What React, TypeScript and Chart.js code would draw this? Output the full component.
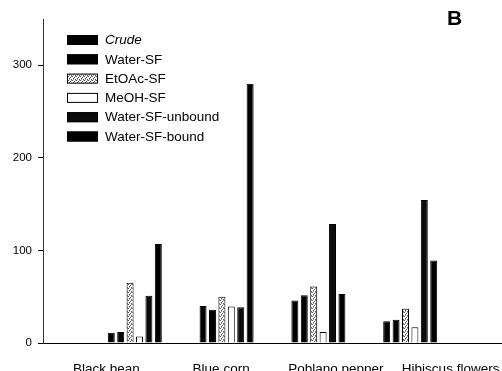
import React, { useEffect, useRef } from "react";
import { Chart, registerables } from "chart.js";

Chart.register(...registerables);

const categories = ["Black bean", "Blue corn", "Poblano pepper", "Hibiscus flowers"];
const seriesNames = ["Crude", "Water-SF", "EtOAc-SF", "MeOH-SF", "Water-SF-unbound", "Water-SF-bound"];
const crude = [11, 40, 46, 23.5];
const waterSF = [12, 36, 51.5, 25];
const etoacSF = [65, 50, 61, 37];
const meohSF = [7, 39.5, 12, 17];
const waterSFUnbound = [51, 38.5, 128.5, 154.5];
const waterSFBound = [107, 280, 53, 89];
const yTicks = [0, 100, 200, 300];
const yMax = 350;
const panelLabel = "B";

const FONT = '"Liberation Sans", Arial, Helvetica, sans-serif';
const CANVAS_W = 502;
const CANVAS_H = 380;

function makeStipple(): CanvasPattern | string {
  const c = document.createElement("canvas");
  c.width = 4;
  c.height = 4;
  const g = c.getContext("2d");
  if (!g) return "#bbb";
  g.fillStyle = "#ffffff";
  g.fillRect(0, 0, 4, 4);
  g.fillStyle = "#555555";
  g.fillRect(0, 0, 1, 1);
  g.fillRect(2, 1, 1, 1);
  g.fillRect(1, 2, 1, 1);
  g.fillRect(3, 3, 1, 1);
  g.fillStyle = "#999999";
  g.fillRect(3, 0, 1, 1);
  g.fillRect(1, 3, 1, 1);
  const p = g.createPattern(c, "repeat");
  return p || "#bbb";
}

const insideLegend = {
  id: "insideLegend",
  afterDraw(chart: any) {
    const { ctx, chartArea } = chart;
    const x0 = chartArea.left + 24;
    const y0 = chartArea.top + 21;
    const rowH = 19.3;
    ctx.save();
    chart.data.datasets.forEach((ds: any, i: number) => {
      const cy = y0 + i * rowH;
      ctx.fillStyle = ds.backgroundColor;
      ctx.fillRect(x0, cy - 5, 31, 10);
      ctx.strokeStyle = "#000";
      ctx.lineWidth = 1;
      ctx.strokeRect(x0 + 0.5, cy - 4.5, 30, 9);
      ctx.fillStyle = "#000";
      ctx.font = (i === 0 ? "italic " : "") + "13.5px " + FONT;
      ctx.textBaseline = "middle";
      ctx.textAlign = "left";
      ctx.fillText(ds.label, x0 + 38, cy + 0.5);
    });
    ctx.font = "bold 21px " + FONT;
    ctx.textAlign = "center";
    ctx.textBaseline = "alphabetic";
    ctx.fillText(panelLabel, 454.5, 24.5);
    ctx.restore();
  },
};

export default function App() {
  const ref = useRef<HTMLCanvasElement>(null);

  useEffect(() => {
    if (!ref.current) return;
    Chart.defaults.font.family = FONT;
    const stipple = makeStipple();
    const fills: any[] = ["#000000", "#000000", stipple, "#ffffff", "#0b0b0b", "#000000"];
    const values = [crude, waterSF, etoacSF, meohSF, waterSFUnbound, waterSFBound];
    const chart = new Chart(ref.current, {
      type: "bar",
      data: {
        labels: ["", ...categories, ""],
        datasets: values.map((v, i) => ({
          label: seriesNames[i],
          data: [null, ...v, null],
          backgroundColor: fills[i],
          borderColor: "#000",
          borderWidth: 1,
          borderSkipped: "bottom",
          xAxisID: "x",
          yAxisID: "y",
          categoryPercentage: 0.615,
          barPercentage: 0.74,
        })),
      },
      options: {
        animation: false,
        responsive: true,
        maintainAspectRatio: false,
        layout: { padding: { top: 19, left: 0, right: 0, bottom: 0 } },
        plugins: {
          legend: { display: false },
          tooltip: { enabled: false },
          title: { display: false },
        },
        scales: {
          x: {
            type: "category",
            display: false,
            offset: false,
          },
          x2: {
            type: "category",
            position: "bottom",
            labels: categories,
            offset: true,
            grid: { display: false, drawTicks: false },
            border: { display: true, color: "#000", width: 1 },
            ticks: {
              color: "#000",
              font: { size: 13.5, family: FONT },
              padding: 18,
              maxRotation: 0,
              autoSkip: false,
              labelOffset: 6,
            },
            afterFit: (s: any) => {
              s.height = CANVAS_H - 343;
              s.paddingLeft = 0;
              s.paddingRight = 0;
            },
          },
          y: {
            type: "linear",
            min: 0,
            max: yMax,
            ticks: {
              stepSize: 100,
              color: "#000",
              font: { size: 11.5, family: FONT },
              padding: 6,
            },
            afterBuildTicks: (axis: any) => {
              axis.ticks = yTicks.map((v) => ({ value: v }));
            },
            grid: {
              display: true,
              drawOnChartArea: false,
              drawTicks: true,
              tickLength: 5,
              tickColor: "#000",
            },
            border: { display: true, color: "#333", width: 1 },
            afterFit: (s: any) => {
              s.width = 43;
              s.paddingTop = 0;
              s.paddingBottom = 0;
            },
          },
        },
      },
      plugins: [insideLegend],
    });
    return () => chart.destroy();
  }, []);

  return (
    <div
      style={{
        position: "fixed",
        left: 0,
        top: 0,
        width: CANVAS_W,
        height: 371,
        overflow: "hidden",
        background: "#fff",
      }}
    >
      <div style={{ position: "relative", width: CANVAS_W, height: CANVAS_H }}>
        <canvas ref={ref} />
      </div>
    </div>
  );
}
